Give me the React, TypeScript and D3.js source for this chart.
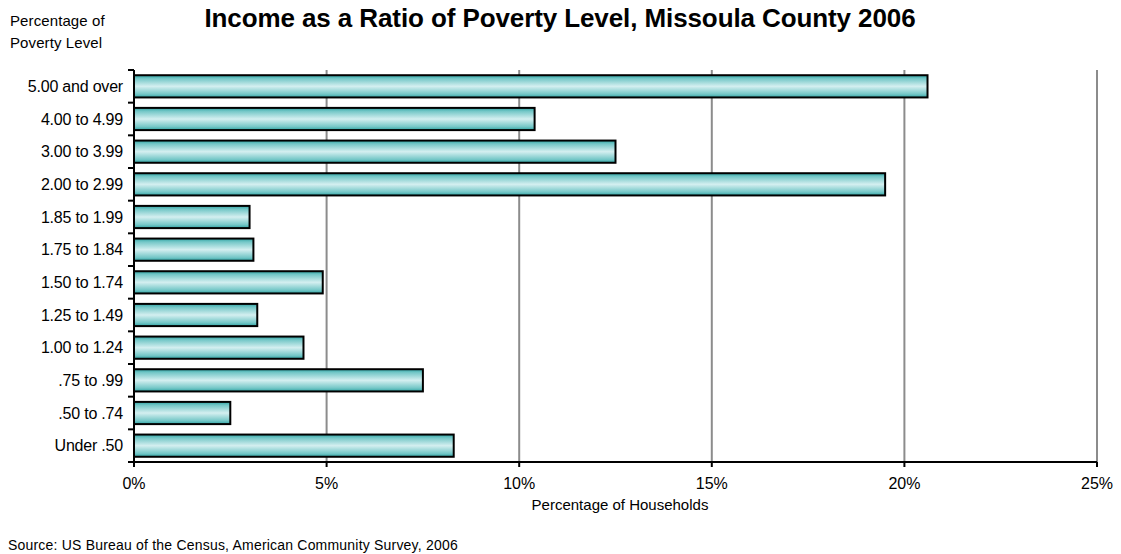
import React from "react";
import * as d3 from "d3";

const categories = [
  "5.00 and over",
  "4.00 to 4.99",
  "3.00 to 3.99",
  "2.00 to 2.99",
  "1.85 to 1.99",
  "1.75 to 1.84",
  "1.50 to 1.74",
  "1.25 to 1.49",
  "1.00 to 1.24",
  ".75 to .99",
  ".50 to .74",
  "Under .50",
];
const values = [20.6, 10.4, 12.5, 19.5, 3.0, 3.1, 4.9, 3.2, 4.4, 7.5, 2.5, 8.3];
const xTicks = [0, 5, 10, 15, 20, 25];

const title = "Income as a Ratio of Poverty Level, Missoula County 2006";
const xTitle = "Percentage of Households";
const yTitle = ["Percentage of", "Poverty Level"];
const source = "Source: US Bureau of the Census, American Community Survey, 2006";

const W = 1121;
const H = 554;
const left = 134;
const right = 1097;
const top = 70;
const bottom = 462;

export default function App() {
  const x = d3.scaleLinear().domain([0, 25]).range([left, right]);
  const y = d3
    .scaleBand<string>()
    .domain(categories)
    .range([top, bottom])
    .paddingInner(0.32)
    .paddingOuter(0.16);
  const font = "'Liberation Sans', Arial, sans-serif";
  const boundaries = d3.range(categories.length + 1).map((i) => top + i * ((bottom - top) / categories.length));

  return (
    <svg
      width={W}
      height={H}
      style={{ position: "absolute", left: 0, top: 0, background: "#fff" }}
      fontFamily={font}
    >
      <defs>
        <linearGradient id="barGrad" x1="0" y1="0" x2="0" y2="1">
          <stop offset="0" stopColor="#30a3a3" />
          <stop offset="0.15" stopColor="#74c7c7" />
          <stop offset="0.5" stopColor="#d4eff0" />
          <stop offset="0.85" stopColor="#74c7c7" />
          <stop offset="1" stopColor="#30a3a3" />
        </linearGradient>
      </defs>

      <text x={560} y={27} textAnchor="middle" fontSize={26} fontWeight="bold" letterSpacing={-0.1}>
        {title}
      </text>
      {yTitle.map((t, i) => (
        <text key={t} x={10} y={26 + i * 22} fontSize={15} letterSpacing={0.1}>
          {t}
        </text>
      ))}

      {/* gridlines */}
      {xTicks.slice(1).map((t) => (
        <line key={t} x1={x(t)} x2={x(t)} y1={top} y2={bottom} stroke="#8c8c8c" strokeWidth={2} />
      ))}

      {/* bars */}
      {categories.map((c, i) => (
        <rect
          key={c}
          x={x(0)}
          y={y(c)!}
          width={x(values[i]) - x(0)}
          height={y.bandwidth()}
          fill="url(#barGrad)"
          stroke="#000"
          strokeWidth={2}
        />
      ))}

      {/* y axis */}
      <line x1={left} x2={left} y1={top} y2={bottom} stroke="#000" strokeWidth={2} />
      {boundaries.map((b, i) => (
        <line key={i} x1={left - 6} x2={left} y1={b} y2={b} stroke="#000" strokeWidth={2} />
      ))}
      {categories.map((c) => (
        <text
          key={c}
          x={123}
          y={y(c)! + y.bandwidth() / 2}
          dy="0.35em"
          textAnchor="end"
          fontSize={16}
          letterSpacing={-0.2}
        >
          {c}
        </text>
      ))}

      {/* x axis */}
      <line x1={left} x2={right} y1={bottom} y2={bottom} stroke="#000" strokeWidth={2} />
      {xTicks.map((t) => (
        <g key={t}>
          <line x1={x(t)} x2={x(t)} y1={bottom} y2={bottom + 5} stroke="#000" strokeWidth={2} />
          <text x={x(t)} y={489} textAnchor="middle" fontSize={16} letterSpacing={0}>
            {t + "%"}
          </text>
        </g>
      ))}
      <text x={620} y={510} textAnchor="middle" fontSize={15} letterSpacing={0}>
        {xTitle}
      </text>
      <text x={8} y={550} fontSize={14} letterSpacing={0.2}>
        {source}
      </text>
    </svg>
  );
}
